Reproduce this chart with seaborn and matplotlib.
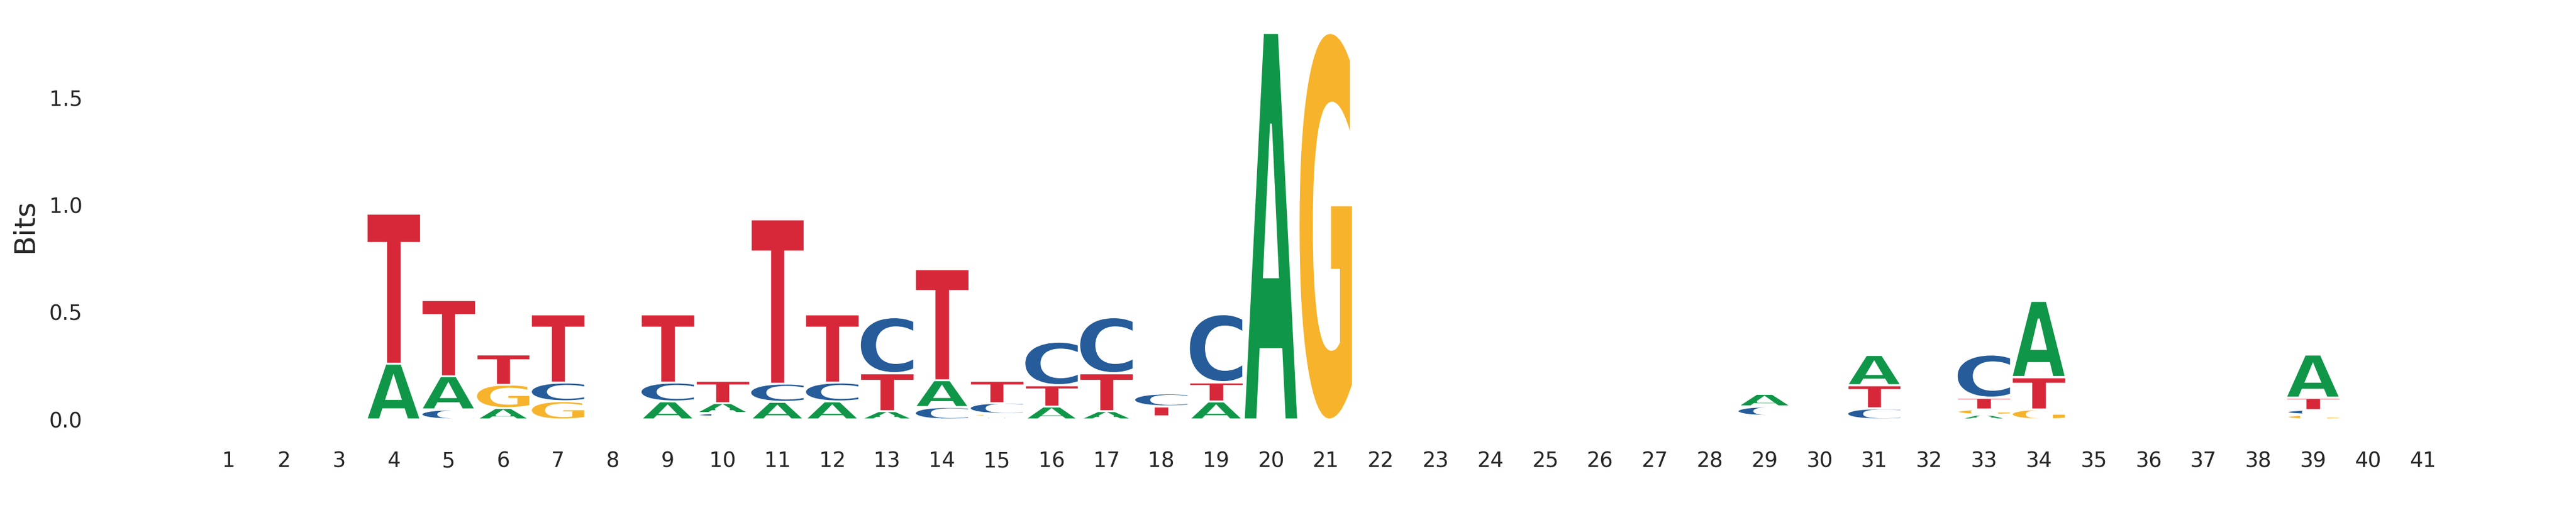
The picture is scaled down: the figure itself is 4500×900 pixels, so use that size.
import numpy as np
import pandas as pd
import matplotlib
matplotlib.use("Agg")
import matplotlib.pyplot as plt
import seaborn as sns
from matplotlib.textpath import TextPath
from matplotlib.patches import PathPatch
from matplotlib.font_manager import FontProperties
from matplotlib.transforms import Affine2D

# ---------------- data (information content in bits per letter) ----------------
positions = list(range(1, 42))

A = [0, 0, 0, 0.260, 0.155, 0.053, 0, 0, 0.084, 0.048,
     0.082, 0.084, 0.040, 0.126, 0.012, 0.062, 0.040, 0.008, 0.084, 1.800,
     0, 0, 0, 0, 0, 0, 0, 0, 0.058, 0,
     0.140, 0, 0.022, 0.354, 0, 0, 0, 0, 0.200, 0, 0]
C = [0, 0, 0, 0, 0.047, 0, 0.087, 0, 0.088, 0.018,
     0.085, 0.088, 0.260, 0.058, 0.052, 0.202, 0.260, 0.060, 0.316, 0,
     0, 0, 0, 0, 0, 0, 0, 0, 0.045, 0,
     0.052, 0, 0.200, 0, 0, 0, 0, 0, 0.024, 0, 0]
G = [0, 0, 0, 0, 0, 0.110, 0.085, 0, 0, 0.012,
     0, 0, 0, 0, 0.014, 0, 0, 0.009, 0, 0,
     1.800, 0, 0, 0, 0, 0, 0, 0, 0.009, 0,
     0, 0, 0.026, 0.048, 0, 0, 0, 0, 0.022, 0, 0]
T = [0, 0, 0, 0.700, 0.355, 0.141, 0.318, 0, 0.318, 0.102,
     0.767, 0.318, 0.176, 0.516, 0.102, 0.098, 0.176, 0.044, 0.090, 0,
     0, 0, 0, 0, 0, 0, 0, 0, 0.007, 0,
     0.108, 0, 0.054, 0.150, 0, 0, 0, 0, 0.056, 0, 0]

ytick_values = [0.0, 0.5, 1.0, 1.5]
ylabel_text = "Bits"

letter_colors = {"A": "#109648", "C": "#255C99", "G": "#F7B32B", "T": "#D62839"}

# ---------------- style ----------------
sns.set_theme(context="paper", style="white")
plt.rcParams["font.family"] = ["DejaVu Sans"]

df = pd.DataFrame({"A": A, "C": C, "G": G, "T": T}, index=positions)

W, H = 4500, 900
fig = plt.figure(figsize=(15, 3), dpi=300)

# layout in pixels
ax_left_px, ax_right_px = 160, 4340
ax_bottom_px, ax_top_px = 733, 57.7
first_px, last_px = 400, 4232
step = (last_px - first_px) / (positions[-1] - positions[0])

ax = fig.add_axes([ax_left_px / W, 1 - ax_bottom_px / H,
                   (ax_right_px - ax_left_px) / W, (ax_bottom_px - ax_top_px) / H])

ymax = float(df.sum(axis=1).max())
ax.set_ylim(0, ymax)
ax.set_xlim(positions[0] - (first_px - ax_left_px) / step,
            positions[-1] + (ax_right_px - last_px) / step)

prop = FontProperties(family="DejaVu Sans", weight="bold")
glyph_width = 0.99

for p, row in df.iterrows():
    floor = 0.0
    for letter, h in sorted(row.items(), key=lambda kv: kv[1]):
        if h <= 0:
            continue
        path = TextPath((0, 0), letter, size=1, prop=prop)
        bb = path.get_extents()
        tr = (Affine2D()
              .translate(-bb.x0, -bb.y0)
              .scale(glyph_width / bb.width, h / bb.height)
              .translate(p - glyph_width / 2, floor))
        patch = PathPatch(tr.transform_path(path), facecolor=letter_colors[letter],
                          edgecolor="white", linewidth=0.8)
        ax.add_patch(patch)
        floor += h

ax.set_xticks(positions)
ax.set_xticklabels([str(p) for p in positions])
ax.set_yticks(ytick_values)
ax.set_yticklabels([f"{v:.1f}" for v in ytick_values])
ax.tick_params(axis="x", length=0, labelsize=8.8, pad=13)
ax.tick_params(axis="y", length=0, labelsize=8.8, pad=3.8)
ax.set_ylabel(ylabel_text, fontsize=12)
ax.yaxis.label.set_va("center")
ax.yaxis.set_label_coords((43 - ax_left_px) / (ax_right_px - ax_left_px), 0.5)

sns.despine(ax=ax, left=True, bottom=True)
ax.grid(False)

fig.savefig("out.png", dpi=300)
